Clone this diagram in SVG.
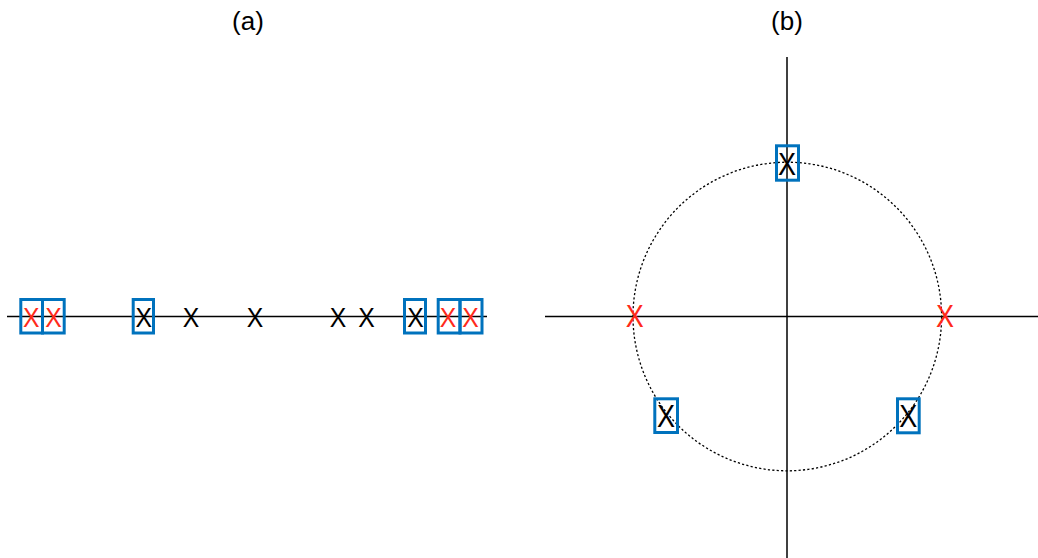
<svg xmlns="http://www.w3.org/2000/svg" width="1038" height="558" viewBox="0 0 1038 558">
<style>
.axis{stroke:#000;stroke-width:1.5;fill:none}
.circ{stroke:#000;stroke-width:1.3;fill:none;stroke-dasharray:2.2 2.2}
.box{fill:none;stroke:#0072BD;stroke-width:3}
.xs{font-family:"Liberation Sans",Arial,sans-serif;font-size:27px;text-anchor:middle}
.xl{font-family:"Liberation Sans",Arial,sans-serif;font-size:30.5px;text-anchor:middle}
.red{fill:#ff2a1a}
.blk{fill:#000}
.title{font-family:"Liberation Sans",Arial,sans-serif;font-size:26px;text-anchor:middle;fill:#000}
</style>
<rect width="1038" height="558" fill="#fff"/>
<g id="connectors">
<line class="axis" x1="7" y1="316.5" x2="487" y2="316.5"/>
<line class="axis" x1="545" y1="316.5" x2="1038" y2="316.5"/>
<line class="axis" x1="787" y1="57" x2="787" y2="558"/>
<circle class="circ" cx="787.3" cy="316.5" r="154.3"/>
</g>
<g id="title-a"><text class="title" x="248" y="30">(a)</text></g>
<g id="title-b"><text class="title" x="787" y="30">(b)</text></g>
<g id="a1"><rect class="box" x="20.8" y="299.5" width="21.7" height="33.5"/><text class="xs red" x="31.2" y="327" textLength="16.5" lengthAdjust="spacingAndGlyphs">X</text></g>
<g id="a2"><rect class="box" x="42.5" y="299.5" width="21.7" height="33.5"/><text class="xs red" x="53.5" y="327" textLength="16.5" lengthAdjust="spacingAndGlyphs">X</text></g>
<g id="a3"><rect class="box" x="133.2" y="299.5" width="20.3" height="33.5"/><text class="xs blk" x="143.7" y="327" textLength="16.5" lengthAdjust="spacingAndGlyphs">X</text></g>
<g id="a4"><text class="xs blk" x="191" y="327" textLength="16.5" lengthAdjust="spacingAndGlyphs">X</text></g>
<g id="a5"><text class="xs blk" x="255" y="327" textLength="16.5" lengthAdjust="spacingAndGlyphs">X</text></g>
<g id="a6"><text class="xs blk" x="338" y="327" textLength="16.5" lengthAdjust="spacingAndGlyphs">X</text></g>
<g id="a7"><text class="xs blk" x="366.5" y="327" textLength="16.5" lengthAdjust="spacingAndGlyphs">X</text></g>
<g id="a8"><rect class="box" x="404.5" y="299.5" width="21" height="33.5"/><text class="xs blk" x="415.5" y="327" textLength="16.5" lengthAdjust="spacingAndGlyphs">X</text></g>
<g id="a9"><rect class="box" x="438.2" y="299.5" width="21.8" height="33.5"/><text class="xs red" x="448" y="327" textLength="16.5" lengthAdjust="spacingAndGlyphs">X</text></g>
<g id="a10"><rect class="box" x="460" y="299.5" width="22" height="33.5"/><text class="xs red" x="470.5" y="327" textLength="16.5" lengthAdjust="spacingAndGlyphs">X</text></g>
<g id="b1"><rect class="box" x="776.5" y="145.8" width="22" height="34.4"/><text class="xl blk" x="787" y="174.5" textLength="18" lengthAdjust="spacingAndGlyphs">X</text></g>
<g id="b2"><text class="xl red" x="634.7" y="327" textLength="18" lengthAdjust="spacingAndGlyphs">X</text></g>
<g id="b3"><text class="xl red" x="945" y="327" textLength="18" lengthAdjust="spacingAndGlyphs">X</text></g>
<g id="b4"><rect class="box" x="654.8" y="398.8" width="22.7" height="33.7"/><text class="xl blk" x="666" y="427" textLength="18" lengthAdjust="spacingAndGlyphs">X</text></g>
<g id="b5"><rect class="box" x="897.5" y="398.8" width="21.7" height="34"/><text class="xl blk" x="908.3" y="427" textLength="18" lengthAdjust="spacingAndGlyphs">X</text></g>
</svg>
